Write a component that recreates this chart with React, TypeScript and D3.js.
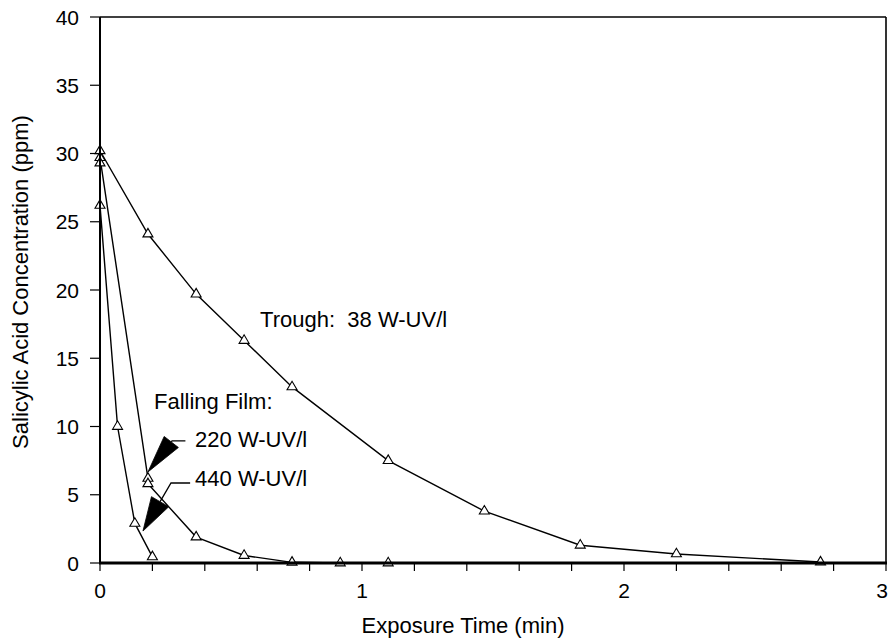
import React from "react";
import * as d3 from "d3";

// Exposure time (min) for each run
const troughTime = [0, 0.183, 0.367, 0.55, 0.733, 1.1, 1.467, 1.833, 2.2, 2.75];
const troughConc = [30.2, 24.1, 19.7, 16.3, 12.9, 7.5, 3.8, 1.3, 0.66, 0.07];

const film220Time = [0, 0.183, 0.183, 0.367, 0.55, 0.733, 0.917, 1.1];
const film220Conc = [29.7, 6.2, 5.8, 1.9, 0.55, 0.05, 0, 0];

const film440Time = [0, 0, 0.067, 0.133, 0.2];
const film440Conc = [29.3, 26.2, 10.0, 2.9, 0.45];

const xTickLabels = [0, 1, 2, 3];
const yTickValues = [0, 5, 10, 15, 20, 25, 30, 35, 40];

const W = 888;
const H = 638;
const FONT = "'Liberation Sans', Arial, Helvetica, sans-serif";

const x = d3.scaleLinear().domain([0, 3]).range([100, 886]);
const y = d3.scaleLinear().domain([0, 40]).range([563, 17]);

type Pt = [number, number];

const zip = (t: number[], c: number[]): Pt[] => t.map((v, i) => [v, c[i]]);

const series = [zip(troughTime, troughConc), zip(film220Time, film220Conc), zip(film440Time, film440Conc)];

const line = d3
  .line<Pt>()
  .x((d) => x(d[0]))
  .y((d) => y(d[1]));

function Triangle({ cx, cy }: { cx: number; cy: number }) {
  const w = 10;
  const h = 8.5;
  const p = `M${cx - w / 2},${cy + h / 3}L${cx + w / 2},${cy + h / 3}L${cx},${cy - (2 * h) / 3}Z`;
  return <path d={p} fill="white" stroke="black" strokeWidth={1.1} />;
}

// Leader with a filled wedge head; points given in data units
function Leader({ pts, headLen, headWidth }: { pts: Pt[]; headLen: number; headWidth: number }) {
  const px = pts.map((p) => [x(p[0]), y(p[1])] as Pt);
  const tip = px[px.length - 1];
  const prev = px[px.length - 2];
  const dx = tip[0] - prev[0];
  const dy = tip[1] - prev[1];
  const len = Math.hypot(dx, dy);
  const ux = dx / len;
  const uy = dy / len;
  const bx = tip[0] - ux * headLen;
  const by = tip[1] - uy * headLen;
  const nx = -uy;
  const ny = ux;
  const head = `M${bx + (nx * headWidth) / 2},${by + (ny * headWidth) / 2}L${bx - (nx * headWidth) / 2},${by - (ny * headWidth) / 2}L${tip[0]},${tip[1]}Z`;
  const shaft = d3.line()(px.slice(0, -1).concat([[bx, by]]) as [number, number][]) || "";
  return (
    <g>
      <path d={shaft} fill="none" stroke="black" strokeWidth={1.3} />
      <path d={head} fill="black" stroke="black" strokeWidth={0.8} strokeLinejoin="miter" />
    </g>
  );
}

export default function App() {
  const xMinor = d3.range(0, 3.0001, 0.2);
  return (
    <svg
      width={W}
      height={H}
      viewBox={`0 0 ${W} ${H}`}
      style={{ position: "absolute", left: 0, top: 0, display: "block", background: "white" }}
      fontFamily={FONT}
    >
      <rect x={0} y={0} width={W} height={H} fill="white" />

      {/* frame */}
      <line x1={x(0)} x2={x(3)} y1={y(40)} y2={y(40)} stroke="black" strokeWidth={1.6} />
      <line x1={x(3)} x2={x(3)} y1={y(40)} y2={y(0)} stroke="black" strokeWidth={1.6} />

      {/* y axis */}
      {yTickValues.map((v) => (
        <g key={`yt${v}`}>
          <line x1={x(0) - 10} x2={x(0)} y1={y(v)} y2={y(v)} stroke="black" strokeWidth={1.2} />
          <text x={79} y={y(v)} dy="0.36em" textAnchor="end" fontSize={21}>
            {v}
          </text>
        </g>
      ))}

      {/* x axis */}
      {xMinor.map((v, i) => (
        <line key={`xt${i}`} x1={x(v)} x2={x(v)} y1={y(0)} y2={y(0) + 8} stroke="black" strokeWidth={1.2} />
      ))}
      {xTickLabels.map((v) => (
        <text key={`xl${v}`} x={Math.min(x(v), W - 6)} y={598} textAnchor="middle" fontSize={21}>
          {v}
        </text>
      ))}

      {/* data */}
      {series.map((s, i) => (
        <path key={`s${i}`} d={line(s) || ""} fill="none" stroke="black" strokeWidth={1.4} />
      ))}
      {series.map((s, i) =>
        s.map((d, j) => <Triangle key={`m${i}-${j}`} cx={x(d[0])} cy={y(d[1])} />)
      )}

      <line x1={x(0)} x2={x(0)} y1={y(40)} y2={y(0) + 1} stroke="black" strokeWidth={2} />
      <line x1={x(0) - 1} x2={x(3) + 1} y1={y(0)} y2={y(0)} stroke="black" strokeWidth={3} />

      {/* annotations */}
      <text x={x(0.611)} y={y(17.29)} fontSize={22} style={{ whiteSpace: "pre" }}>
        {"Trough:  38 W-UV/l"}
      </text>
      <text x={x(0.206)} y={y(11.28)} fontSize={22}>
        Falling Film:
      </text>
      <text x={x(0.363)} y={y(8.5)} fontSize={22}>
        220 W-UV/l
      </text>
      <text x={x(0.363)} y={y(5.64)} fontSize={22}>
        440 W-UV/l
      </text>
      <Leader pts={[[0.326, 8.94], [0.275, 8.94], [0.183, 6.67]]} headLen={38} headWidth={18} />
      <Leader pts={[[0.344, 5.86], [0.271, 5.86], [0.164, 2.34]]} headLen={34} headWidth={20} />

      {/* axis titles */}
      <text x={463} y={633} textAnchor="middle" fontSize={22}>
        Exposure Time (min)
      </text>
      <text transform={`translate(28, 282) rotate(-90)`} textAnchor="middle" fontSize={22}>
        Salicylic Acid Concentration (ppm)
      </text>
    </svg>
  );
}
